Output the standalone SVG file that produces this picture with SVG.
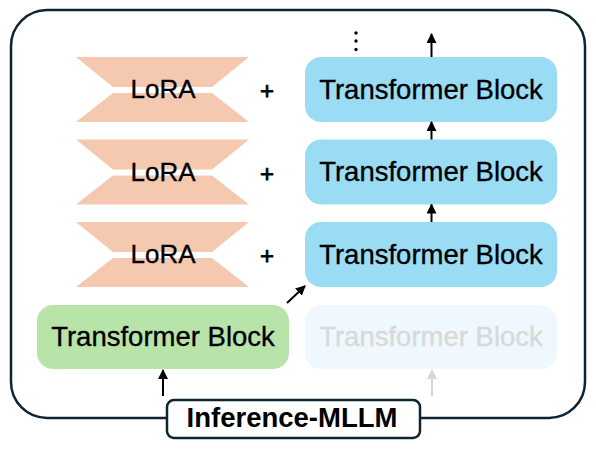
<svg xmlns="http://www.w3.org/2000/svg" width="596" height="452" viewBox="0 0 596 452">
<defs>
<style>
.lora{fill:#f5c8b0}
.blk{fill:#9bdcf5}
.t{font-family:"Liberation Sans",Arial,sans-serif;font-size:27.5px;fill:#000;stroke:#000;stroke-width:0.35;text-anchor:middle}
.lt{font-size:26px}
.ar{stroke:#000;stroke-width:2;fill:none}
.arg{stroke:#d6d6d6;stroke-width:2;fill:none}
</style>
<marker id="ah" viewBox="0 0 10 10" refX="9" refY="5" markerWidth="5" markerHeight="5" orient="auto" markerUnits="strokeWidth"><path d="M0,0 L10,5 L0,10 z" fill="#000"/></marker>
<marker id="ahg" viewBox="0 0 10 10" refX="9" refY="5" markerWidth="5" markerHeight="5" orient="auto" markerUnits="strokeWidth"><path d="M0,0 L10,5 L0,10 z" fill="#d6d6d6"/></marker>
</defs>
<rect id="frame" x="11" y="10" width="574" height="408" rx="36" fill="#fff" stroke="#0d2433" stroke-width="2.5"/>

<g id="lora1"><path class="lora" d="M76,57 H249 L212,87 H113 Z M113,93 H212 L249,122 H76 Z"/><text class="t lt" x="163" y="98">LoRA</text></g>
<g id="lora2"><path class="lora" d="M76,139.5 H249 L212,169.5 H113 Z M113,175.5 H212 L249,204.5 H76 Z"/><text class="t lt" x="163" y="180.5">LoRA</text></g>
<g id="lora3"><path class="lora" d="M76,222 H249 L212,252 H113 Z M113,258 H212 L249,287 H76 Z"/><text class="t lt" x="163" y="263">LoRA</text></g>

<g id="plus1"><text class="t" x="267" y="99" style="font-size:24px;stroke-width:0.8">+</text></g>
<g id="plus2"><text class="t" x="267" y="181.5" style="font-size:24px;stroke-width:0.8">+</text></g>
<g id="plus3"><text class="t" x="267" y="264" style="font-size:24px;stroke-width:0.8">+</text></g>

<g id="tb1"><rect class="blk" x="305" y="57" width="252" height="65" rx="16"/><text class="t" x="431" y="98.5">Transformer Block</text></g>
<g id="tb2"><rect class="blk" x="305" y="139.5" width="252" height="65" rx="16"/><text class="t" x="431" y="181">Transformer Block</text></g>
<g id="tb3"><rect class="blk" x="305" y="222" width="252" height="65" rx="16"/><text class="t" x="431" y="263.5">Transformer Block</text></g>
<g id="tbg"><rect x="37" y="305" width="252" height="64" rx="16" fill="#b8e4a9"/><text class="t" x="163" y="346">Transformer Block</text></g>
<g id="tbghost"><rect x="305" y="305" width="252" height="64" rx="16" fill="#eff8fe"/><text class="t" x="431" y="346" style="fill:#d9d9d9;stroke:#d9d9d9">Transformer Block</text></g>

<g id="dots" fill="#000"><circle cx="356" cy="33" r="1.7"/><circle cx="356" cy="41" r="1.7"/><circle cx="356" cy="49.5" r="1.7"/></g>

<g id="connectors">
<line class="ar" x1="431.5" y1="57" x2="431.5" y2="34" marker-end="url(#ah)"/>
<line class="ar" x1="431.5" y1="139.5" x2="431.5" y2="122" marker-end="url(#ah)"/>
<line class="ar" x1="431.5" y1="222" x2="431.5" y2="204.5" marker-end="url(#ah)"/>
<line class="ar" x1="287" y1="303" x2="305" y2="286" marker-end="url(#ah)"/>
<line class="ar" x1="163" y1="396" x2="163" y2="370" marker-end="url(#ah)"/>
<line class="arg" x1="432" y1="396" x2="432" y2="370" marker-end="url(#ahg)"/>
</g>

<g id="label"><rect x="167" y="400" width="253" height="38" rx="7" fill="#fff" stroke="#0d2433" stroke-width="2.5"/><text class="t" x="292" y="427" style="font-weight:bold;stroke-width:0">Inference-MLLM</text></g>
</svg>
